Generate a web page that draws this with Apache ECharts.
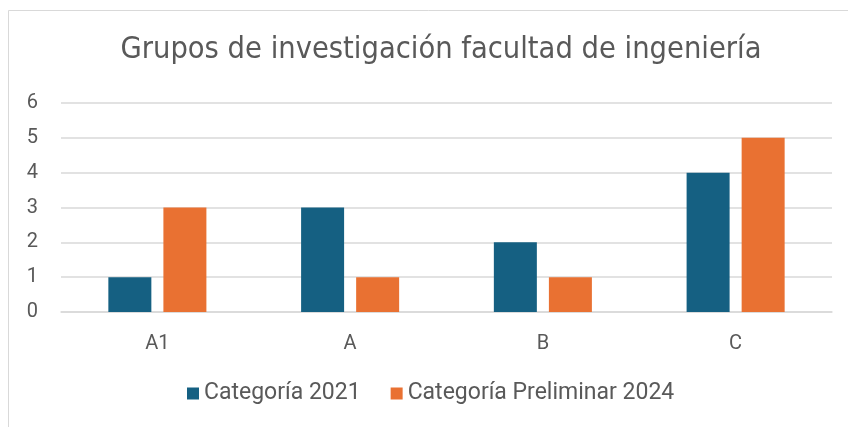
<!DOCTYPE html>
<html><head><meta charset="utf-8">
<script src="https://cdn.jsdelivr.net/npm/echarts@6/dist/echarts.min.js"></script>
<style>html,body{margin:0;padding:0;background:#fff}#c{width:848px;height:427px}</style>
</head><body><div id="c"></div>
<script>
const categories = ['A1', 'A', 'B', 'C'];
const serie2021 = [1, 3, 2, 4];
const serie2024 = [3, 1, 1, 5];
const seriesNames = ['Categoría 2021', 'Categoría Preliminar 2024'];
const titleText = 'Grupos de investigación facultad de ingeniería';

const chart = echarts.init(document.getElementById('c'));
const txt = '#595959';
chart.setOption({
  animation: false,
  backgroundColor: '#fff',
  graphic: [{ type: 'rect', shape: { x: 8.5, y: 10.5, width: 900, height: 500 }, style: { fill: 'none', stroke: '#d9d9d9', lineWidth: 1 }, silent: true }],
  title: { text: titleText, left: 436, textAlign: 'center', top: 30,
    textStyle: { fontFamily: 'DejaVu Sans Condensed, Liberation Sans Narrow, sans-serif', fontSize: 30.5, fontWeight: 'normal', color: txt } },
  legend: { bottom: 17, left: 182, itemWidth: 12, itemHeight: 12, itemGap: 30,
    icon: 'rect', textStyle: { fontFamily: 'Roboto, sans-serif', fontSize: 23, color: txt },
    data: seriesNames },
  grid: { left: 61, right: 16, top: 103, bottom: 115 },
  xAxis: { type: 'category', data: categories,
    axisLine: { lineStyle: { color: '#d9d9d9', width: 1.5 } }, axisTick: { show: false },
    axisLabel: { color: txt, fontSize: 20, fontFamily: 'Roboto, sans-serif', margin: 22 } },
  yAxis: { type: 'value', min: 0, max: 6, interval: 1,
    axisLine: { show: false }, axisTick: { show: false },
    splitLine: { lineStyle: { color: '#d9d9d9', width: 1.5 } },
    axisLabel: { color: txt, fontSize: 20, fontFamily: 'Roboto, sans-serif', margin: 23 } },
  series: [
    { name: seriesNames[0], type: 'bar', data: serie2021, barWidth: 43, barGap: '28%', itemStyle: { color: '#156082' } },
    { name: seriesNames[1], type: 'bar', data: serie2024, barWidth: 43, itemStyle: { color: '#E97132' } }
  ]
});
</script></body></html>
